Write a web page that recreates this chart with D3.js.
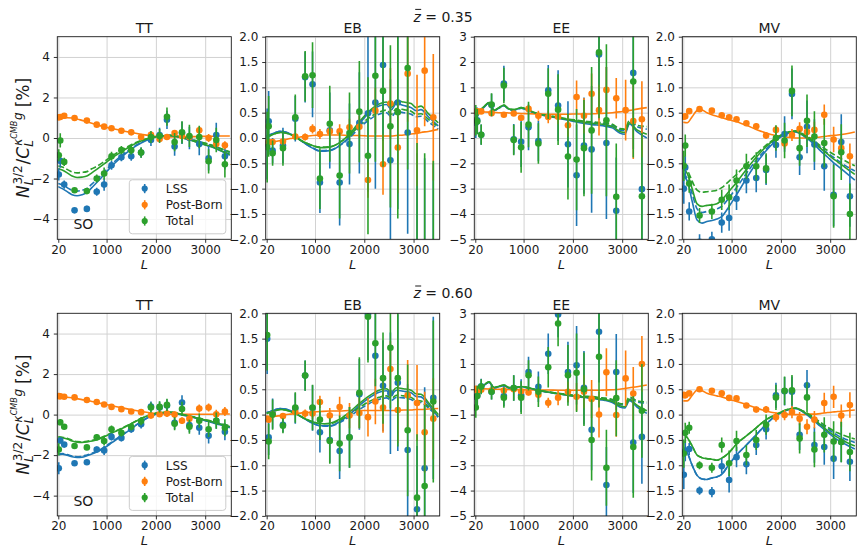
<!DOCTYPE html>
<html>
<head>
<meta charset="utf-8">
<script src="https://cdn.jsdelivr.net/npm/d3@7"></script>
<style>
  body { margin: 0; background: #fff; }
  svg text { font-family: "DejaVu Sans", sans-serif; }
</style>
</head>
<body>
<svg id="fig" width="858" height="548"></svg>
<script>
// ---- binning and axes ----
const multipoleBins = [30, 60, 140, 350, 600, 800, 950, 1100, 1300, 1500, 1700, 1900, 2075, 2225, 2380, 2530, 2680, 2880, 3070, 3225, 3400];
const theoryL = [20, 100, 200, 300, 400, 500, 600, 700, 800, 950, 1100, 1300, 1500, 1700, 1900, 2100, 2300, 2450, 2550, 2650, 2800, 2950, 3050, 3150, 3300, 3500];
const xDomain = [0, 3530];
const xTicks = [20, 1000, 2000, 3000];
const estimators = ["TT", "EB", "EE", "MV"];
const redshifts = ["0.35", "0.60"];
const seriesNames = ["LSS", "Post-Born", "Total"];
const ttRange = [-5, 5], ttTicks = [-4, -2, 0, 2, 4];
const ebRange = [-2, 2], ebTicks = [-2, -1.5, -1, -0.5, 0, 0.5, 1, 1.5, 2];
const eeRange = [-5, 3], eeTicks = [-5, -4, -3, -2, -1, 0, 1, 2, 3];
const mvRange = [-2, 2], mvTicks = [-2, -1.5, -1, -0.5, 0, 0.5, 1, 1.5, 2];

// ---- z = 0.35 : simulated bandpowers [%] ----
const tt035Lss = [-1.8, -1.12, -2.3, -3.57, -3.5, -2.65, -2.3, -1.35, -0.95, -0.9, -0.72, -0.1, 0.15, 0.9, -0.42, 0.25, 0.0, -0.3, -1.0, 0.15, -0.9];
const tt035Tot = [-0.85, -0.12, -1.18, -2.58, -2.62, -2.0, -1.75, -0.9, -0.6, -0.6, -0.72, 0.05, 0.1, 1.05, -0.2, 0.28, 0.1, 0.05, -1.15, -0.1, -1.3];
const tt035Err = [0.3, 0.35, 0.2, 0.12, 0.15, 0.2, 0.3, 0.22, 0.2, 0.22, 0.25, 0.3, 0.35, 0.45, 0.45, 0.55, 0.55, 0.55, 0.6, 0.6, 0.65];
const tt035Pb = [1.02, 1.04, 1.1, 0.99, 0.86, 0.66, 0.56, 0.48, 0.36, 0.28, 0.05, 0.16, -0.05, 0.05, 0.25, 0.1, 0.05, 0.38, 0.0, -0.3, -0.36];
const tt035PbErr = [0.08, 0.08, 0.08, 0.06, 0.07, 0.07, 0.08, 0.08, 0.08, 0.08, 0.1, 0.12, 0.12, 0.15, 0.15, 0.15, 0.17, 0.17, 0.2, 0.2, 0.2];

const eb035Lss = [-0.12, 0.33, -0.25, -0.15, 0.38, 1.2, 1.06, -0.88, 0.15, -0.88, -0.12, 0.3, 0.49, 0.7, 1.44, -0.44, 0.7, 0.11, -2.4, -2.6, -2.3];
const eb035Tot = [-0.18, 0.23, -0.3, -0.2, 0.41, 1.22, 1.24, -0.8, 0.28, -0.74, 0.1, 0.52, -0.35, 1.23, 0.93, 0.23, 0.51, 1.38, -2.2, -2.5, -2.25];
const eb035Err = [0.7, 0.6, 0.25, 0.35, 0.45, 0.5, 0.65, 0.6, 0.75, 0.85, 0.8, 1.0, 1.55, 1.7, 1.5, 1.6, 2.1, 2.0, 2.1, 2.2, 1.8];
const eb035Pb = [-0.1, -0.08, -0.08, -0.07, 0.03, 0.02, 0.18, 0.08, 0.13, 0.13, 0.21, 0.22, -0.83, 0.54, -0.52, 0.68, -0.19, 1.27, 0.15, 1.33, 0.41];
const eb035PbErr = [0.04, 0.04, 0.04, 0.05, 0.06, 0.07, 0.09, 0.1, 0.12, 0.14, 0.17, 0.22, 0.35, 0.45, 0.6, 0.7, 0.9, 0.95, 1.1, 1.1, 1.25];

const ee035Lss = [-0.4, -0.3, -0.87, 0.3, 1.15, -1.05, -1.15, -0.58, -1.12, 0.88, 0.28, -1.25, -2.47, -1.3, -1.45, 2.3, -1.2, -3.87, null, 1.57, -3.02];
const ee035Tot = [-0.3, -0.35, -0.87, 0.32, 1.07, -1.08, -1.37, -0.47, -1.22, 0.75, 0.12, -1.73, -1.85, -1.4, -0.7, 2.38, -0.3, -3.32, null, 1.23, -3.3];
const ee035Err = [0.6, 0.5, 0.4, 0.45, 0.7, 0.6, 1.0, 0.9, 0.8, 1.0, 1.4, 1.7, 2.0, 1.9, 2.5, 2.6, 3.0, 2.1, 2.5, 3.0, 2.5];
const ee035Pb = [0.05, 0.05, 0.05, -0.02, -0.08, -0.03, -0.2, 0.15, -0.12, -0.17, -0.16, -0.5, 0.62, -0.12, 0.75, 0.1, 0.9, 0.57, 0.1, -0.33, -0.26];
const ee035PbErr = [0.05, 0.05, 0.05, 0.07, 0.08, 0.1, 0.12, 0.15, 0.2, 0.25, 0.3, 0.45, 0.65, 0.7, 0.8, 1.0, 0.9, 0.8, 1.2, 1.5, 1.5];

const mv035Lss = [-1.0, -0.58, -1.45, -2.05, -2.0, -1.67, -1.58, -1.2, -0.84, -0.79, -0.63, -0.14, 0.08, 0.87, -0.38, 0.22, -0.13, -0.56, -1.12, -0.08, -1.15];
const mv035Tot = [-0.55, -0.15, -0.9, -1.53, -1.45, -1.22, -1.17, -0.84, -0.56, -0.56, -0.6, 0.0, -0.05, 0.93, -0.2, 0.34, 0.03, -0.1, -1.15, -0.28, -1.5];
const mv035Err = [0.3, 0.22, 0.18, 0.15, 0.15, 0.2, 0.25, 0.22, 0.25, 0.28, 0.3, 0.25, 0.35, 0.5, 0.35, 0.52, 0.5, 0.48, 0.62, 0.55, 0.6];
const mv035Pb = [0.42, 0.43, 0.53, 0.57, 0.54, 0.45, 0.41, 0.37, 0.29, 0.23, 0.05, 0.16, -0.11, 0.06, 0.18, 0.12, 0.16, 0.46, -0.03, -0.2, -0.36];
const mv035PbErr = [0.03, 0.03, 0.03, 0.03, 0.03, 0.04, 0.04, 0.05, 0.05, 0.06, 0.07, 0.08, 0.1, 0.12, 0.13, 0.15, 0.16, 0.2, 0.25, 0.22, 0.25];

// ---- z = 0.60 : simulated bandpowers [%] ----
const tt060Lss = [-2.65, -1.28, -1.48, -2.4, -2.35, -1.72, -1.77, -1.1, -1.15, -0.72, -0.48, 0.4, 0.35, 0.45, -0.4, 0.6, -0.52, -0.65, -1.05, -0.3, -0.85];
const tt060Tot = [-1.72, -0.38, -0.6, -1.55, -1.62, -1.12, -1.3, -0.72, -0.9, -0.6, -0.32, 0.35, 0.38, 0.48, -0.45, 0.28, -0.6, -0.3, -0.72, -0.3, -0.65];
const tt060Err = [0.3, 0.15, 0.12, 0.1, 0.12, 0.15, 0.22, 0.18, 0.18, 0.18, 0.2, 0.25, 0.28, 0.3, 0.32, 0.35, 0.35, 0.35, 0.38, 0.4, 0.42];
const tt060Pb = [0.92, 0.9, 0.88, 0.85, 0.72, 0.62, 0.5, 0.38, 0.27, 0.15, 0.12, -0.05, 0.02, 0.05, 0.0, -0.3, -0.2, 0.3, 0.35, 0.02, 0.15];
const tt060PbErr = [0.05, 0.05, 0.05, 0.05, 0.06, 0.07, 0.07, 0.08, 0.08, 0.09, 0.1, 0.12, 0.13, 0.15, 0.15, 0.17, 0.17, 0.2, 0.2, 0.22, 0.22];

const eb060Lss = [1.5, -0.45, 0.02, -0.2, 0.12, 0.77, 0.13, -0.35, -0.5, -0.72, -0.45, 0.4, 1.98, 1.16, 0.57, 0.42, 0.63, -0.7, -1.87, -1.06, 0.33];
const eb060Tot = [1.57, -0.53, 0.0, -0.22, 0.14, 0.77, 0.14, -0.1, -0.52, -0.57, -0.45, 0.43, 1.93, 1.41, 0.72, 1.32, 0.72, -0.31, -1.64, -1.41, 0.26];
const eb060Err = [0.7, 0.35, 0.3, 0.15, 0.3, 0.3, 0.45, 0.4, 0.45, 0.55, 0.6, 0.7, 0.9, 0.85, 0.9, 1.2, 1.35, 1.3, 1.25, 1.6, 1.6];
const eb060Pb = [-0.08, -0.1, 0.0, -0.03, 0.05, 0.02, 0.02, 0.25, -0.02, 0.15, -0.02, 0.03, -0.05, 0.26, 0.14, 0.9, 0.09, 0.38, 0.23, -0.35, -0.08];
const eb060PbErr = [0.03, 0.03, 0.03, 0.04, 0.06, 0.08, 0.1, 0.12, 0.15, 0.2, 0.25, 0.3, 0.38, 0.45, 0.5, 0.55, 0.65, 0.7, 0.75, 0.8, 0.8];

const ee060Lss = [-0.3, -0.25, 0.12, -0.1, -0.27, 0.05, -0.25, 0.68, 0.1, 1.4, 2.95, 0.68, 0.95, 0.06, -1.6, 2.27, -3.78, 0.68, null, -2.1, -1.88];
const ee060Tot = [-0.72, -0.27, 0.1, -0.1, -0.33, 0.05, -0.33, 0.55, -0.1, 0.87, 2.6, 0.55, 0.65, 0.0, -2.0, 1.28, -3.1, -0.35, null, -2.28, -0.85];
const ee060Err = [0.4, 0.4, 0.3, 0.3, 0.4, 0.5, 0.65, 0.6, 0.6, 0.8, 0.9, 1.2, 1.55, 1.45, 1.6, 2.0, 1.5, 1.5, 1.7, 2.0, 1.85];
const ee060Pb = [0.02, -0.05, -0.02, -0.05, -0.05, 0.0, -0.08, -0.13, -0.22, -0.53, -0.33, -0.1, -0.3, -0.1, -0.38, -1.0, 0.67, -1.02, 0.43, -0.17, 1.0];
const ee060PbErr = [0.05, 0.05, 0.05, 0.06, 0.07, 0.08, 0.1, 0.12, 0.15, 0.2, 0.3, 0.4, 0.55, 0.65, 0.75, 0.9, 0.95, 0.85, 1.1, 1.05, 1.1];

const mv060Lss = [-1.19, -0.72, -0.68, -1.5, -1.53, -1.02, -1.29, -0.84, -0.98, -0.6, -0.29, 0.38, 0.46, 0.45, -0.4, 0.58, -0.6, -0.64, -0.87, -0.54, -0.93];
const mv060Tot = [-0.77, -0.36, -0.26, -1.0, -1.05, -0.6, -0.96, -0.52, -0.8, -0.5, -0.2, 0.34, 0.47, 0.48, -0.47, 0.34, -0.69, -0.4, -0.53, -0.54, -0.74];
const mv060Err = [0.28, 0.2, 0.12, 0.08, 0.1, 0.15, 0.25, 0.2, 0.2, 0.2, 0.2, 0.25, 0.28, 0.3, 0.3, 0.3, 0.35, 0.35, 0.4, 0.4, 0.38];
const mv060Pb = [0.39, 0.38, 0.42, 0.5, 0.47, 0.42, 0.33, 0.32, 0.18, 0.1, 0.1, -0.05, -0.01, 0.05, -0.08, -0.24, -0.1, 0.23, 0.35, -0.02, 0.19];
const mv060PbErr = [0.03, 0.03, 0.03, 0.03, 0.03, 0.04, 0.04, 0.05, 0.05, 0.06, 0.07, 0.09, 0.1, 0.12, 0.13, 0.15, 0.17, 0.2, 0.22, 0.22, 0.25];

// ---- analytic predictions on theoryL (solid: full, dashed: approximation) ----
const tt035ThPb = [0.93, 0.98, 1.0, 0.99, 0.94, 0.87, 0.8, 0.73, 0.66, 0.56, 0.47, 0.37, 0.27, 0.18, 0.11, 0.07, 0.05, 0.05, 0.05, 0.06, 0.07, 0.08, 0.08, 0.09, 0.1, 0.1];
const tt035ThLss = [-2.4, -2.5, -2.65, -2.8, -2.85, -2.8, -2.7, -2.45, -2.2, -1.8, -1.4, -0.95, -0.55, -0.25, -0.03, 0.1, 0.12, 0.06, 0.0, -0.06, -0.18, -0.3, -0.38, -0.46, -0.62, -0.85];
const tt035ThLssDash = [-2.25, -2.32, -2.45, -2.58, -2.62, -2.58, -2.5, -2.28, -2.05, -1.68, -1.3, -0.88, -0.5, -0.22, -0.02, 0.1, 0.12, 0.07, 0.02, -0.03, -0.13, -0.24, -0.31, -0.38, -0.52, -0.72];
const tt035ThTot = [-1.5, -1.58, -1.72, -1.88, -1.95, -1.93, -1.88, -1.72, -1.55, -1.28, -1.0, -0.68, -0.38, -0.15, 0.0, 0.1, 0.12, 0.06, 0.0, -0.06, -0.18, -0.29, -0.37, -0.45, -0.6, -0.8];
const tt035ThTotDash = [-1.38, -1.43, -1.55, -1.68, -1.72, -1.7, -1.66, -1.52, -1.4, -1.16, -0.9, -0.6, -0.33, -0.12, 0.01, 0.1, 0.13, 0.08, 0.03, -0.02, -0.12, -0.22, -0.29, -0.36, -0.5, -0.68];

const eb035ThPb = [-0.1, -0.09, -0.07, -0.05, -0.03, -0.01, 0.0, 0.02, 0.03, 0.05, 0.06, 0.06, 0.06, 0.05, 0.05, 0.04, 0.04, 0.04, 0.04, 0.05, 0.06, 0.08, 0.09, 0.11, 0.13, 0.17];
const eb035ThLss = [0.04, 0.07, 0.11, 0.13, 0.12, 0.08, 0.03, -0.04, -0.11, -0.2, -0.26, -0.25, -0.15, 0.03, 0.28, 0.5, 0.63, 0.66, 0.56, 0.68, 0.64, 0.6, 0.54, 0.56, 0.42, 0.24];
const eb035ThLssDash = [0.04, 0.07, 0.11, 0.13, 0.12, 0.08, 0.03, -0.04, -0.11, -0.19, -0.25, -0.24, -0.15, 0.0, 0.2, 0.36, 0.47, 0.5, 0.42, 0.52, 0.5, 0.47, 0.42, 0.43, 0.32, 0.18];
const eb035ThTot = [0.01, 0.05, 0.09, 0.11, 0.1, 0.07, 0.02, -0.04, -0.09, -0.15, -0.19, -0.18, -0.09, 0.08, 0.32, 0.53, 0.67, 0.71, 0.61, 0.74, 0.71, 0.68, 0.6, 0.63, 0.48, 0.3];
const eb035ThTotDash = [0.01, 0.05, 0.09, 0.11, 0.1, 0.07, 0.02, -0.04, -0.09, -0.15, -0.18, -0.17, -0.09, 0.05, 0.24, 0.4, 0.51, 0.55, 0.47, 0.58, 0.56, 0.53, 0.47, 0.48, 0.37, 0.22];

const ee035ThPb = [0.05, 0.04, 0.03, 0.02, 0.01, 0.0, 0.0, -0.01, -0.02, -0.03, -0.04, -0.05, -0.06, -0.06, -0.06, -0.05, -0.05, -0.04, -0.03, -0.02, 0.0, 0.03, 0.06, 0.09, 0.14, 0.2];
const ee035ThLss = [-0.35, 0.0, 0.22, 0.38, 0.08, 0.18, 0.28, 0.14, 0.1, 0.18, 0.08, -0.06, -0.14, -0.22, -0.3, -0.38, -0.45, -0.48, -0.5, -0.53, -0.6, -0.8, -0.85, -0.45, -0.75, -1.0];
const ee035ThLssDash = [-0.35, 0.0, 0.22, 0.38, 0.08, 0.18, 0.28, 0.14, 0.1, 0.18, 0.08, -0.06, -0.13, -0.2, -0.27, -0.33, -0.38, -0.4, -0.42, -0.44, -0.5, -0.68, -0.7, -0.35, -0.55, -0.65];
const ee035ThTot = [-0.3, 0.03, 0.25, 0.4, 0.1, 0.2, 0.3, 0.15, 0.12, 0.2, 0.1, -0.05, -0.12, -0.2, -0.27, -0.34, -0.4, -0.43, -0.45, -0.48, -0.55, -0.74, -0.78, -0.4, -0.68, -0.85];
const ee035ThTotDash = [-0.3, 0.03, 0.25, 0.4, 0.1, 0.2, 0.3, 0.15, 0.12, 0.2, 0.1, -0.05, -0.11, -0.18, -0.25, -0.3, -0.35, -0.37, -0.39, -0.41, -0.46, -0.63, -0.65, -0.3, -0.5, -0.55];

const mv035ThPb = [0.31, 0.3, 0.42, 0.54, 0.55, 0.5, 0.46, 0.43, 0.4, 0.36, 0.32, 0.25, 0.17, 0.1, 0.05, 0.02, 0.0, 0.0, 0.0, 0.01, 0.02, 0.04, 0.05, 0.06, 0.08, 0.12];
const mv035ThLss = [-0.75, -0.85, -1.25, -1.62, -1.68, -1.65, -1.63, -1.6, -1.55, -1.35, -1.12, -0.8, -0.5, -0.25, -0.05, 0.08, 0.12, 0.05, -0.02, -0.1, -0.25, -0.38, -0.47, -0.55, -0.67, -0.83];
const mv035ThLssDash = [-0.7, -0.8, -1.1, -1.4, -1.47, -1.45, -1.43, -1.4, -1.35, -1.18, -0.98, -0.7, -0.44, -0.22, -0.03, 0.09, 0.13, 0.07, 0.01, -0.06, -0.18, -0.3, -0.37, -0.44, -0.54, -0.65];
const mv035ThTot = [-0.6, -0.7, -1.0, -1.3, -1.35, -1.33, -1.32, -1.3, -1.22, -1.05, -0.88, -0.62, -0.38, -0.17, -0.01, 0.1, 0.13, 0.06, 0.0, -0.07, -0.2, -0.32, -0.4, -0.47, -0.58, -0.72];
const mv035ThTotDash = [-0.55, -0.63, -0.85, -1.03, -1.07, -1.06, -1.05, -1.03, -0.98, -0.85, -0.72, -0.52, -0.32, -0.14, 0.0, 0.1, 0.14, 0.08, 0.02, -0.04, -0.15, -0.25, -0.31, -0.37, -0.45, -0.55];

const tt060ThPb = [0.88, 0.87, 0.86, 0.83, 0.79, 0.74, 0.7, 0.65, 0.6, 0.52, 0.44, 0.34, 0.24, 0.15, 0.08, 0.04, 0.02, 0.02, 0.02, 0.02, 0.02, 0.02, 0.02, 0.02, 0.03, 0.03];
const tt060ThLss = [-1.98, -1.95, -2.0, -2.08, -2.12, -2.1, -2.03, -1.95, -1.85, -1.65, -1.4, -1.05, -0.7, -0.35, -0.08, 0.08, 0.1, 0.03, -0.03, -0.08, -0.17, -0.27, -0.33, -0.4, -0.5, -0.65];
const tt060ThLssDash = [-1.95, -1.92, -1.97, -2.05, -2.08, -2.06, -1.99, -1.91, -1.81, -1.61, -1.36, -1.02, -0.68, -0.34, -0.07, 0.08, 0.1, 0.04, -0.02, -0.06, -0.15, -0.24, -0.3, -0.36, -0.46, -0.6];
const tt060ThTot = [-1.12, -1.15, -1.2, -1.3, -1.36, -1.37, -1.35, -1.3, -1.25, -1.1, -0.92, -0.7, -0.45, -0.2, 0.0, 0.1, 0.12, 0.05, -0.01, -0.06, -0.15, -0.24, -0.3, -0.37, -0.47, -0.6];
const tt060ThTotDash = [-1.09, -1.12, -1.17, -1.27, -1.33, -1.34, -1.32, -1.27, -1.22, -1.07, -0.9, -0.68, -0.44, -0.19, 0.01, 0.1, 0.12, 0.06, 0.0, -0.05, -0.13, -0.22, -0.27, -0.33, -0.43, -0.55];

const eb060ThPb = [-0.06, -0.05, -0.03, -0.02, 0.0, 0.01, 0.02, 0.03, 0.04, 0.05, 0.06, 0.07, 0.07, 0.08, 0.08, 0.08, 0.08, 0.08, 0.08, 0.08, 0.09, 0.09, 0.1, 0.1, 0.11, 0.12];
const eb060ThLss = [0.04, 0.06, 0.1, 0.12, 0.11, 0.08, 0.03, -0.03, -0.09, -0.17, -0.22, -0.22, -0.14, 0.0, 0.18, 0.33, 0.44, 0.47, 0.4, 0.48, 0.46, 0.43, 0.36, 0.35, 0.2, -0.05];
const eb060ThLssDash = [0.04, 0.06, 0.1, 0.12, 0.11, 0.08, 0.03, -0.03, -0.09, -0.17, -0.22, -0.23, -0.16, -0.04, 0.1, 0.22, 0.3, 0.33, 0.28, 0.34, 0.33, 0.3, 0.25, 0.24, 0.13, -0.05];
const eb060ThTot = [0.02, 0.05, 0.08, 0.1, 0.09, 0.06, 0.02, -0.03, -0.08, -0.14, -0.18, -0.17, -0.09, 0.05, 0.22, 0.37, 0.48, 0.51, 0.44, 0.53, 0.51, 0.48, 0.41, 0.4, 0.24, 0.0];
const eb060ThTotDash = [0.02, 0.05, 0.08, 0.1, 0.09, 0.06, 0.02, -0.03, -0.08, -0.14, -0.18, -0.18, -0.11, 0.0, 0.14, 0.26, 0.34, 0.37, 0.32, 0.38, 0.37, 0.34, 0.28, 0.27, 0.16, -0.02];

const ee060ThPb = [0.05, 0.03, 0.02, 0.01, 0.0, 0.0, -0.01, -0.01, -0.02, -0.02, -0.03, -0.03, -0.03, -0.04, -0.04, -0.04, -0.04, -0.04, -0.04, -0.03, -0.02, 0.0, 0.03, 0.06, 0.1, 0.17];
const ee060ThLss = [-0.3, 0.0, 0.15, 0.28, 0.05, 0.1, 0.15, 0.05, 0.05, 0.1, 0.05, -0.05, -0.12, -0.18, -0.24, -0.3, -0.34, -0.37, -0.41, -0.44, -0.52, -0.7, -0.74, -0.45, -0.7, -0.95];
const ee060ThLssDash = [-0.3, 0.0, 0.15, 0.28, 0.05, 0.1, 0.15, 0.05, 0.05, 0.1, 0.05, -0.05, -0.11, -0.17, -0.22, -0.27, -0.3, -0.32, -0.35, -0.37, -0.43, -0.6, -0.62, -0.35, -0.5, -0.55];
const ee060ThTot = [-0.28, 0.02, 0.17, 0.3, 0.07, 0.12, 0.17, 0.07, 0.06, 0.11, 0.06, -0.04, -0.11, -0.17, -0.23, -0.28, -0.32, -0.35, -0.38, -0.41, -0.48, -0.65, -0.69, -0.4, -0.63, -0.85];
const ee060ThTotDash = [-0.28, 0.02, 0.17, 0.3, 0.07, 0.12, 0.17, 0.07, 0.06, 0.11, 0.06, -0.04, -0.1, -0.16, -0.21, -0.25, -0.28, -0.3, -0.33, -0.35, -0.4, -0.56, -0.58, -0.3, -0.45, -0.5];

const mv060ThPb = [0.27, 0.27, 0.38, 0.48, 0.47, 0.42, 0.39, 0.37, 0.35, 0.3, 0.26, 0.2, 0.13, 0.07, 0.03, 0.01, 0.0, 0.0, 0.01, 0.01, 0.02, 0.04, 0.05, 0.06, 0.07, 0.09];
const mv060ThLss = [-0.65, -0.75, -1.0, -1.2, -1.27, -1.28, -1.25, -1.23, -1.18, -0.98, -0.8, -0.6, -0.4, -0.19, -0.02, 0.08, 0.12, 0.05, -0.02, -0.1, -0.23, -0.35, -0.43, -0.5, -0.58, -0.68];
const mv060ThLssDash = [-0.65, -0.75, -1.0, -1.2, -1.27, -1.28, -1.25, -1.23, -1.18, -0.98, -0.8, -0.6, -0.4, -0.19, -0.02, 0.08, 0.12, 0.06, 0.0, -0.07, -0.18, -0.28, -0.35, -0.41, -0.48, -0.55];
const mv060ThTot = [-0.38, -0.45, -0.62, -0.8, -0.85, -0.87, -0.88, -0.9, -0.86, -0.75, -0.58, -0.42, -0.26, -0.1, 0.0, 0.09, 0.13, 0.06, 0.0, -0.07, -0.2, -0.32, -0.39, -0.45, -0.53, -0.62];
const mv060ThTotDash = [-0.38, -0.45, -0.62, -0.8, -0.85, -0.87, -0.88, -0.9, -0.86, -0.75, -0.58, -0.42, -0.26, -0.1, 0.0, 0.09, 0.13, 0.07, 0.02, -0.04, -0.15, -0.25, -0.31, -0.36, -0.42, -0.48];

// ---- assemble panels ----
const panels = [
  { row: 0, col: 0, range: ttRange, ticks: ttTicks, fmt: "d", lss: tt035Lss, tot: tt035Tot, err: tt035Err, pb: tt035Pb, pbErr: tt035PbErr, thPb: tt035ThPb, thLss: tt035ThLss, thLssDash: tt035ThLssDash, thTot: tt035ThTot, thTotDash: tt035ThTotDash },
  { row: 0, col: 1, range: ebRange, ticks: ebTicks, fmt: ".1f", lss: eb035Lss, tot: eb035Tot, err: eb035Err, pb: eb035Pb, pbErr: eb035PbErr, thPb: eb035ThPb, thLss: eb035ThLss, thLssDash: eb035ThLssDash, thTot: eb035ThTot, thTotDash: eb035ThTotDash },
  { row: 0, col: 2, range: eeRange, ticks: eeTicks, fmt: "d", lss: ee035Lss, tot: ee035Tot, err: ee035Err, pb: ee035Pb, pbErr: ee035PbErr, thPb: ee035ThPb, thLss: ee035ThLss, thLssDash: ee035ThLssDash, thTot: ee035ThTot, thTotDash: ee035ThTotDash },
  { row: 0, col: 3, range: mvRange, ticks: mvTicks, fmt: ".1f", lss: mv035Lss, tot: mv035Tot, err: mv035Err, pb: mv035Pb, pbErr: mv035PbErr, thPb: mv035ThPb, thLss: mv035ThLss, thLssDash: mv035ThLssDash, thTot: mv035ThTot, thTotDash: mv035ThTotDash },
  { row: 1, col: 0, range: ttRange, ticks: ttTicks, fmt: "d", lss: tt060Lss, tot: tt060Tot, err: tt060Err, pb: tt060Pb, pbErr: tt060PbErr, thPb: tt060ThPb, thLss: tt060ThLss, thLssDash: tt060ThLssDash, thTot: tt060ThTot, thTotDash: tt060ThTotDash },
  { row: 1, col: 1, range: ebRange, ticks: ebTicks, fmt: ".1f", lss: eb060Lss, tot: eb060Tot, err: eb060Err, pb: eb060Pb, pbErr: eb060PbErr, thPb: eb060ThPb, thLss: eb060ThLss, thLssDash: eb060ThLssDash, thTot: eb060ThTot, thTotDash: eb060ThTotDash },
  { row: 1, col: 2, range: eeRange, ticks: eeTicks, fmt: "d", lss: ee060Lss, tot: ee060Tot, err: ee060Err, pb: ee060Pb, pbErr: ee060PbErr, thPb: ee060ThPb, thLss: ee060ThLss, thLssDash: ee060ThLssDash, thTot: ee060ThTot, thTotDash: ee060ThTotDash },
  { row: 1, col: 3, range: mvRange, ticks: mvTicks, fmt: ".1f", lss: mv060Lss, tot: mv060Tot, err: mv060Err, pb: mv060Pb, pbErr: mv060PbErr, thPb: mv060ThPb, thLss: mv060ThLss, thLssDash: mv060ThLssDash, thTot: mv060ThTot, thTotDash: mv060ThTotDash }
];

// ---- drawing ----
const svg = d3.select("#fig");
const COLOR = { lss: "#1f77b4", pb: "#ff7f0e", tot: "#2ca02c" };
const W = 174, H = 202.6;
const colX = [57.3, 265.7, 474.3, 682.3];
const rowY = [36.7, 313.3];
const TXT = "#1a1a1a";
const DASH = "6,2.6";

function styleAxis(sel) {
  sel.select(".domain").remove();
  sel.selectAll(".tick line").attr("stroke", TXT).attr("stroke-width", 0.9);
  sel.selectAll(".tick text").attr("fill", TXT).attr("font-size", 12).attr("font-family", "DejaVu Sans");
}

panels.forEach((p, i) => {
  const x0 = colX[p.col], y0 = rowY[p.row];
  const x = d3.scaleLinear().domain(xDomain).range([x0, x0 + W]);
  const y = d3.scaleLinear().domain(p.range).range([y0 + H, y0]);
  const g = svg.append("g");

  // grid
  g.append("g").attr("transform", `translate(0,${y0 + H})`)
    .call(d3.axisBottom(x).tickValues(xTicks).tickSize(-H).tickFormat(""))
    .call(s => { s.select(".domain").remove(); s.selectAll("line").attr("stroke", "#d2d2d2").attr("stroke-width", 1); });
  g.append("g").attr("transform", `translate(${x0},0)`)
    .call(d3.axisLeft(y).tickValues(p.ticks).tickSize(-W).tickFormat(""))
    .call(s => { s.select(".domain").remove(); s.selectAll("line").attr("stroke", "#d2d2d2").attr("stroke-width", 1); });

  const cid = "clip" + i;
  svg.append("clipPath").attr("id", cid).append("rect")
    .attr("x", x0).attr("y", y0).attr("width", W).attr("height", H);
  const plot = g.append("g").attr("clip-path", `url(#${cid})`);

  // predictions
  const line = d3.line().x(d => x(d[0])).y(d => y(d[1])).curve(d3.curveMonotoneX);
  const curve = arr => theoryL.map((L, k) => [L, arr[k]]);
  [[p.thPb, "pb", null], [p.thLss, "lss", null], [p.thLssDash, "lss", DASH],
   [p.thTot, "tot", null], [p.thTotDash, "tot", DASH]].forEach(([arr, key, dash]) => {
    plot.append("path").attr("d", line(curve(arr)))
      .attr("fill", "none").attr("stroke", COLOR[key]).attr("stroke-width", 1.6)
      .attr("stroke-dasharray", dash);
  });

  // bandpowers with error bars
  [["lss", p.lss, p.err], ["pb", p.pb, p.pbErr], ["tot", p.tot, p.err]].forEach(([key, vals, errs]) => {
    const pts = multipoleBins.map((L, k) => ({ L, v: vals[k], e: errs[k] })).filter(d => d.v != null);
    const sg = plot.append("g");
    sg.selectAll("line").data(pts).join("line")
      .attr("x1", d => x(d.L)).attr("x2", d => x(d.L))
      .attr("y1", d => y(d.v - d.e)).attr("y2", d => y(d.v + d.e))
      .attr("stroke", COLOR[key]).attr("stroke-width", 1.6);
    sg.selectAll("circle").data(pts).join("circle")
      .attr("cx", d => x(d.L)).attr("cy", d => y(d.v)).attr("r", 3.3)
      .attr("fill", COLOR[key]);
  });

  // frame
  g.append("rect").attr("x", x0).attr("y", y0).attr("width", W).attr("height", H)
    .attr("fill", "none").attr("stroke", TXT).attr("stroke-width", 0.9);

  // axes
  g.append("g").attr("transform", `translate(0,${y0 + H})`)
    .call(d3.axisBottom(x).tickValues(xTicks).tickSize(3.5).tickPadding(2.2).tickFormat(d3.format("d")))
    .call(styleAxis);
  g.append("g").attr("transform", `translate(${x0},0)`)
    .call(d3.axisLeft(y).tickValues(p.ticks).tickSize(3.5).tickPadding(3.9).tickFormat(d3.format(p.fmt)))
    .call(styleAxis);

  // panel title and x label
  g.append("text").attr("x", x0 + W / 2).attr("y", y0 - 3.4).attr("text-anchor", "middle")
    .attr("font-size", 14).attr("fill", TXT).text(estimators[p.col]);
  g.append("text").attr("x", x0 + W / 2).attr("y", y0 + H + 29.2).attr("text-anchor", "middle")
    .attr("font-size", 13).attr("font-style", "italic").attr("fill", TXT).text("L");

  if (p.col === 0) {
    // experiment tag
    g.append("text").attr("x", x(530)).attr("y", y(-4.25)).attr("dy", "0.36em")
      .attr("text-anchor", "middle").attr("font-size", 14).attr("fill", TXT).text("SO");

    // legend
    const lw = 96.5, lh = 54;
    const lx = x0 + W - 5.5 - lw, ly = y0 + H - 5.5 - lh;
    const lg = g.append("g");
    lg.append("rect").attr("x", lx).attr("y", ly).attr("width", lw).attr("height", lh).attr("rx", 3)
      .attr("fill", "#fff").attr("fill-opacity", 0.8).attr("stroke", "#cccccc").attr("stroke-width", 1);
    ["lss", "pb", "tot"].forEach((key, k) => {
      const cy = ly + 8.8 + k * 16.2;
      lg.append("line").attr("x1", lx + 15.4).attr("x2", lx + 15.4).attr("y1", cy - 4.6).attr("y2", cy + 4.6)
        .attr("stroke", COLOR[key]).attr("stroke-width", 1.6);
      lg.append("circle").attr("cx", lx + 15.4).attr("cy", cy).attr("r", 3.1).attr("fill", COLOR[key]);
      lg.append("text").attr("x", lx + 36.5).attr("y", cy).attr("dy", "0.36em")
        .attr("font-size", 12).attr("fill", TXT).text(seriesNames[k]);
    });

    // y label: N_L^{3/2} / C_L^{kappa^{CMB} g} [%]
    const cyLab = y0 + H / 2;
    const outer = svg.append("g").attr("transform", `translate(29,${cyLab}) rotate(-90)`);
    const inner = outer.append("g");
    const put = (s, fs, it, dy, px) => inner.append("text").attr("x", px).attr("y", dy)
      .attr("font-size", fs).attr("font-style", it ? "italic" : "normal").attr("fill", TXT)
      .text(s).node().getComputedTextLength();
    let cx = 0;
    cx += put("N", 17, true, 0, cx);
    const wSup = put("3/2", 12, false, -6.8, cx + 0.8);
    const wSub = put("L", 12, true, 4, cx);
    cx += Math.max(wSup + 0.8, wSub) + 0.8;
    cx += put("/", 17, false, 0, cx);
    cx += put("C", 17, true, 0, cx);
    const wk = put("κ", 12, true, -6.8, cx + 1);
    const wc = put("CMB", 8, true, -11.6, cx + 1 + wk);
    const wg = put("g", 12, true, -6.8, cx + 1 + wk + wc + 0.8);
    const wl = put("L", 12, true, 4, cx);
    cx += Math.max(1 + wk + wc + 0.8 + wg, wl) + 5;
    cx += put("[%]", 17, false, 0, cx);
    inner.attr("transform", `translate(${-cx / 2},0)`);
  }
});

// row headings with the mean redshift
rowY.forEach((ry, r) => {
  const base = ry - 15;
  const t = svg.append("text").attr("x", 443).attr("y", base).attr("text-anchor", "middle")
    .attr("font-size", 14).attr("fill", TXT);
  t.append("tspan").attr("font-style", "italic").text("z");
  t.append("tspan").text(" = " + redshifts[r]);
  const ext = t.node().getExtentOfChar(0);
  svg.append("line").attr("x1", ext.x + 1.8).attr("x2", ext.x + ext.width + 0.4)
    .attr("y1", base - 12.3).attr("y2", base - 12.3).attr("stroke", TXT).attr("stroke-width", 1);
});
</script>
</body>
</html>
